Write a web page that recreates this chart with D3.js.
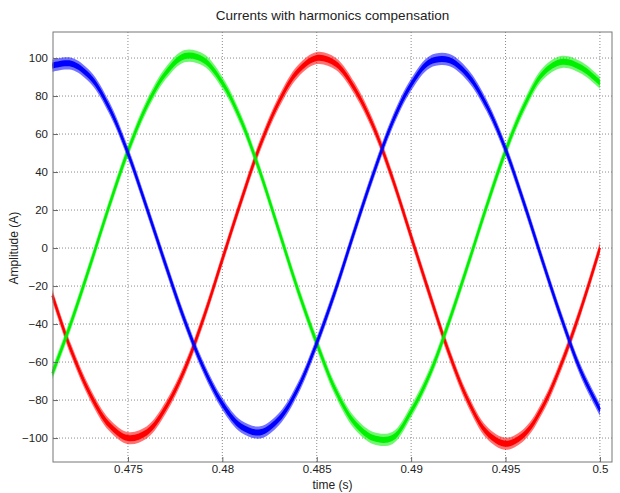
<!DOCTYPE html>
<html>
<head>
<meta charset="utf-8">
<script src="https://cdn.jsdelivr.net/npm/d3@7"></script>
<style>
  body { margin: 0; background: #fff; }
  text { font-family: "Liberation Sans", Arial, sans-serif; fill: #222; }
</style>
</head>
<body>
<div id="chart"></div>
<script>
// sample times (s)
var times = [0.471, 0.472, 0.473, 0.474, 0.475, 0.476, 0.477, 0.478, 0.479, 0.480,
             0.481, 0.482, 0.483, 0.484, 0.485, 0.486, 0.487, 0.488, 0.489, 0.490,
             0.491, 0.492, 0.493, 0.494, 0.495, 0.496, 0.497, 0.498, 0.499, 0.500];

// phase currents (A)
var phaseRed   = [-25, -54, -77, -93, -100, -97, -84, -64, -37, -6,
                   25, 54, 77, 93, 100, 97, 84, 64, 37, 6,
                  -25, -55, -80, -97, -103, -98, -83, -60, -32, 0];
var phaseGreen = [-66, -39, -9, 22, 51, 75, 92, 101, 99, 87,
                   67, 40, 9, -22, -50, -75, -92, -100, -100, -86,
                  -66, -39, -9, 22, 51, 75, 92, 98, 95, 87];
var phaseBlue  = [96, 97, 90, 74, 50, 21, -9, -38, -63, -82,
                  -94, -97, -90, -74, -50, -22, 9, 39, 66, 86,
                   98, 99, 91, 75, 52, 23, -8, -38, -65, -85];

var series = [
  { name: "red",   color: "#ff0000", values: phaseRed },
  { name: "green", color: "#00f000", values: phaseGreen },
  { name: "blue",  color: "#0000ff", values: phaseBlue }
];

var xTicks = [0.475, 0.48, 0.485, 0.49, 0.495, 0.5];
var yTicks = [-100, -80, -60, -40, -20, 0, 20, 40, 60, 80, 100];
var ripple = 3.2; // switching ripple half-width (A)

var width = 620, height = 493;
var padL = 53, padR = 612, padT = 32, padB = 462;

var svg = d3.select("#chart").append("svg")
    .attr("width", width)
    .attr("height", height);

var x = d3.scaleLinear().domain([0.47103, 0.50064]).range([padL, padR]);
var y = d3.scaleLinear().domain([-112.6, 113.7]).range([padB, padT]);

// grid
svg.append("g").selectAll("line").data(xTicks).enter().append("line")
    .attr("x1", function (d) { return x(d); }).attr("x2", function (d) { return x(d); })
    .attr("y1", padT).attr("y2", padB)
    .style("stroke", "#8a8a8a").style("stroke-dasharray", "1,2");
svg.append("g").selectAll("line").data(yTicks).enter().append("line")
    .attr("x1", padL).attr("x2", padR)
    .attr("y1", function (d) { return y(d); }).attr("y2", function (d) { return y(d); })
    .style("stroke", "#8a8a8a").style("stroke-dasharray", "1,2");

// traces
var plot = svg.append("g");
series.forEach(function (s) {
    var pts = times.map(function (t, i) { return { t: t, v: s.values[i] }; });
    var band = d3.area().curve(d3.curveCatmullRom)
        .x(function (d) { return x(d.t); })
        .y0(function (d) { return y(d.v - ripple); })
        .y1(function (d) { return y(d.v + ripple); });
    var inner = d3.area().curve(d3.curveCatmullRom)
        .x(function (d) { return x(d.t); })
        .y0(function (d) { return y(d.v - ripple * 0.5); })
        .y1(function (d) { return y(d.v + ripple * 0.5); });
    var line = d3.line().curve(d3.curveCatmullRom)
        .x(function (d) { return x(d.t); })
        .y(function (d) { return y(d.v); });
    plot.append("path").attr("d", band(pts))
        .style("fill", s.color).style("opacity", 0.55);
    plot.append("path").attr("d", inner(pts))
        .style("fill", s.color);
    plot.append("path").attr("d", line(pts))
        .style("fill", "none").style("stroke", s.color).style("stroke-width", 2.2);
});

// axes
var xAxis = d3.axisBottom(x).tickValues(xTicks).tickSizeInner(-5).tickSizeOuter(0)
    .tickPadding(3).tickFormat(function (d) { return String(+d.toFixed(3)); });
var yAxis = d3.axisLeft(y).tickValues(yTicks).tickSizeInner(-5).tickSizeOuter(0).tickPadding(5);

var gx = svg.append("g").attr("transform", "translate(0," + padB + ")").call(xAxis);
var gy = svg.append("g").attr("transform", "translate(" + padL + ",0)").call(yAxis);
[gx, gy].forEach(function (g) {
    g.select(".domain").remove();
    g.selectAll(".tick line").style("stroke", "#666");
    g.selectAll(".tick text").style("font-size", "11.5px")
        .style("font-family", "Liberation Sans, Arial, sans-serif").style("fill", "#222");
});

// box
svg.append("rect").attr("x", padL).attr("y", padT)
    .attr("width", padR - padL).attr("height", padB - padT)
    .style("fill", "none").style("stroke", "#777").style("stroke-width", 1);

// labels
svg.append("text").attr("x", (padL + padR) / 2).attr("y", 20)
    .attr("text-anchor", "middle").style("font-size", "13.5px")
    .text("Currents with harmonics compensation");
svg.append("text").attr("x", (padL + padR) / 2).attr("y", 489)
    .attr("text-anchor", "middle").style("font-size", "12px")
    .text("time (s)");
svg.append("text").attr("transform", "translate(18," + y(0) + ") rotate(-90)")
    .attr("text-anchor", "middle").style("font-size", "12px")
    .text("Amplitude (A)");
</script>
</body>
</html>
